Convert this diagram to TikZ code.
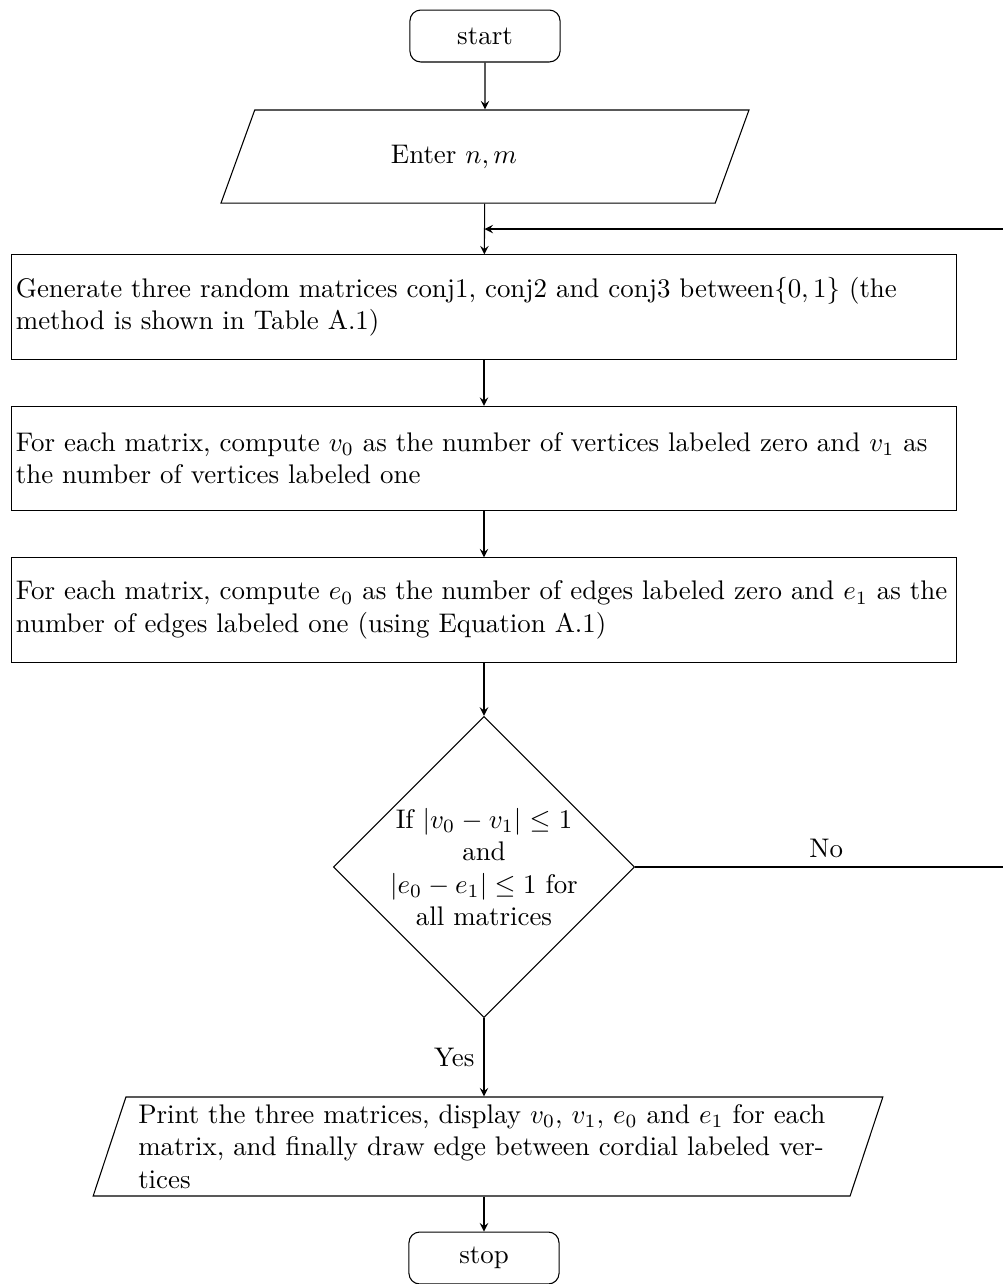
\documentclass[tikz,border=0pt]{standalone}
\usetikzlibrary{shapes.geometric, calc}

\tikzset{
  term/.style={draw, rounded corners=4pt, minimum width=55.8pt, minimum height=19.3pt},
  io/.style={draw, trapezium, trapezium left angle=70, trapezium right angle=110,
    trapezium stretches=true},
  proc/.style={draw, rectangle, minimum width=351.6pt, minimum height=38.7pt,
    text width=348pt, inner xsep=1.8pt, align=left},
  decide/.style={draw, diamond, minimum width=112pt, minimum height=112pt,
    inner sep=-1pt, text width=2.45cm, align=center}
}

\begin{document}
\begin{tikzpicture}[x=0.3717pt, y=-0.3717pt, >=stealth]

  \useasboundingbox (0,0) rectangle (1003,1284);

  % --- nodes ---
  \node[term] (start) at (485,36) {start};
  \node[io, minimum width=198pt, minimum height=34.6pt] (in) at (485,156.5)
    {Enter $n, m$\hspace*{23pt}};
  \node[proc] (gen) at (484,307)
    {Generate three random matrices conj1, conj2 and conj3 between$\{0,1\}$ (the method is shown in Table A.1)};
  \node[proc] (ver) at (484,458.5)
    {For each matrix, compute $v_0$ as the number of vertices labeled zero and $v_1$ as the number of vertices labeled one};
  \node[proc] (edg) at (484,610)
    {For each matrix, compute $e_0$ as the number of edges labeled zero and $e_1$ as the number of edges labeled one (using Equation A.1)};
  \node[decide] (dec) at (484,867)
    {If $|v_0-v_1|\leq 1$\\ and\\ $|e_0-e_1|\leq 1$ for\\ all matrices};
  \node[io, minimum width=294pt, minimum height=36.8pt, text width=260pt, align=left,
    inner ysep=1pt] (out) at (488,1146.5)
    {Print the three matrices, display $v_0$, $v_1$, $e_0$ and $e_1$ for each matrix, and finally draw edge between cordial labeled vertices};
  \node[term] (stop) at (484,1258) {stop};

  \coordinate (join) at ($(in.south)!0.5!(gen.north)$);

  % --- connectors ---
  \draw[->] (start) -- (in);
  \draw[->] (in) -- (gen);
  \draw[->] (gen) -- (ver);
  \draw[->] (ver) -- (edg);
  \draw[->] (edg) -- (dec);
  \draw[->] (dec.east) -- node[above] {No} ++(382,0) |- (join);
  \draw[->] (dec.south) -- node[left] {Yes} (dec.south |- out.north);
  \draw[->] (stop.north |- out.south) -- (stop);

\end{tikzpicture}
\end{document}
